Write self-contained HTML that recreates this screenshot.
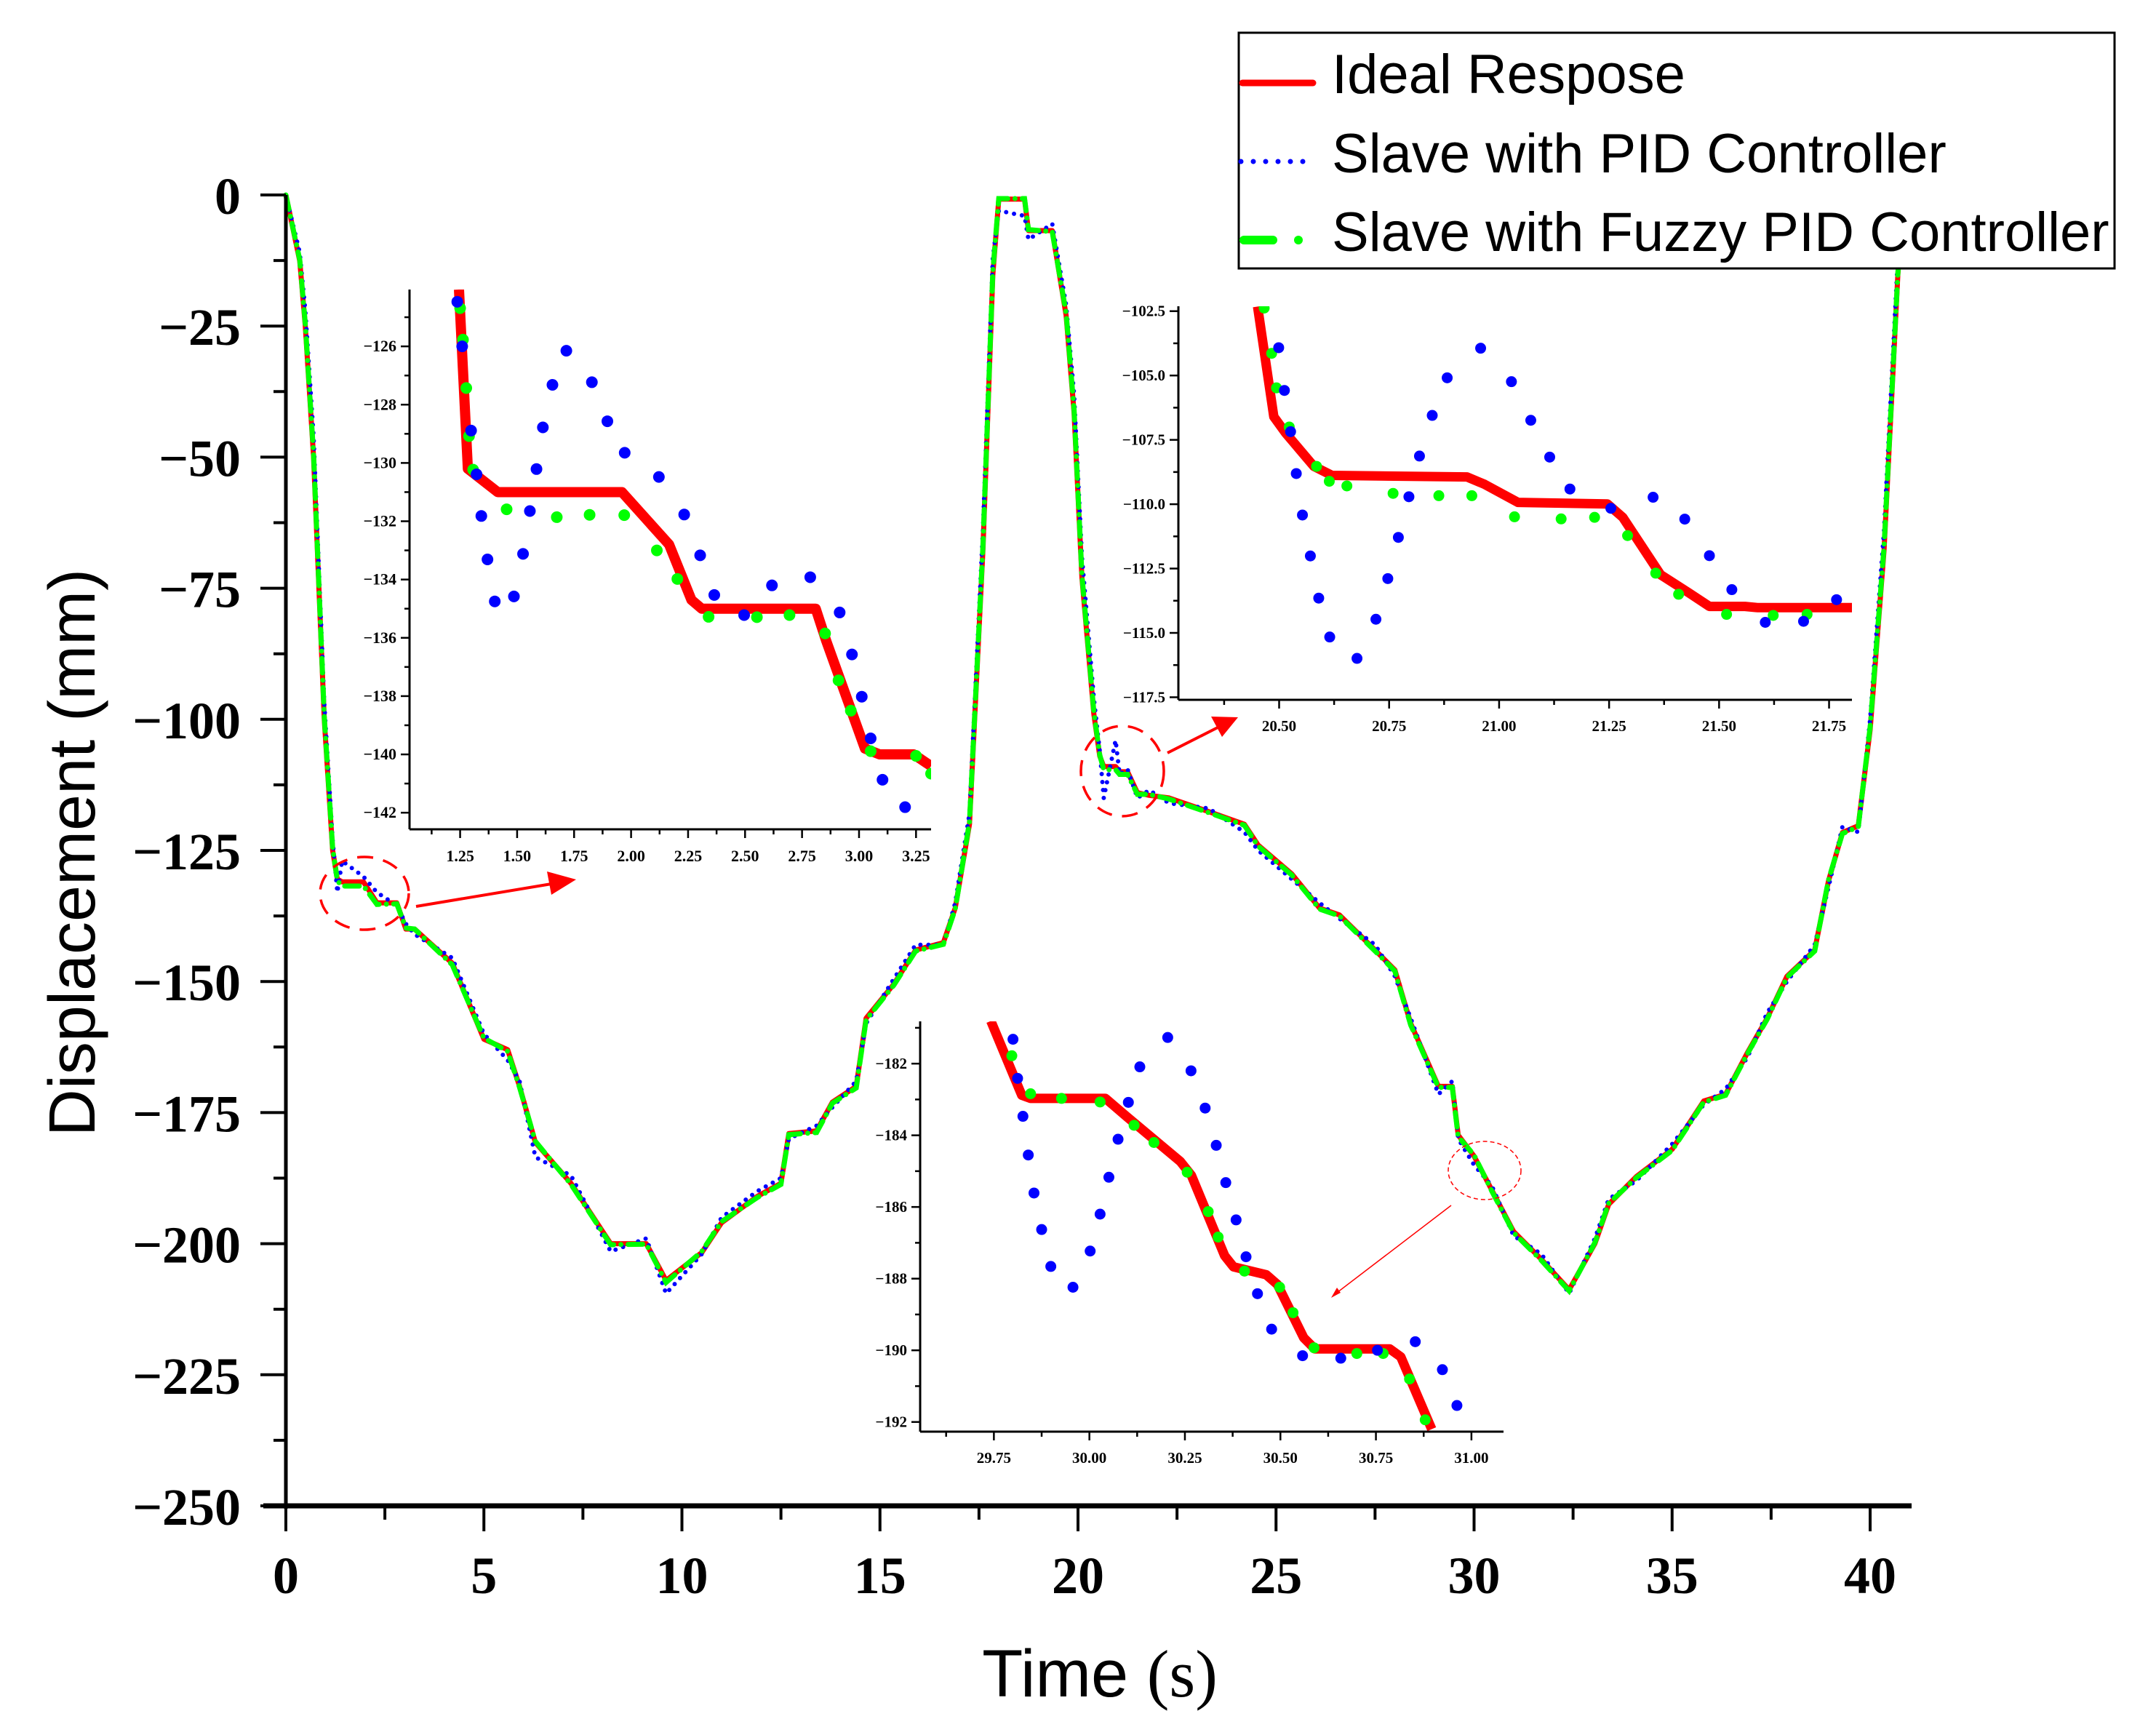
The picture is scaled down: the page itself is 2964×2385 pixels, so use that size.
<!DOCTYPE html>
<html><head><meta charset="utf-8"><style>
html,body{margin:0;padding:0;background:#fff;}
svg{display:block;}
</style></head><body>
<svg id="chart" xmlns="http://www.w3.org/2000/svg" width="2964" height="2385" viewBox="0 0 2964 2385">
<rect x="0" y="0" width="2964" height="2385" fill="#fff"/>
<g id="main-plot"></g>
<g id="annot">
 <ellipse cx="501" cy="1228" rx="61" ry="50" fill="none" stroke="#f00" stroke-width="3.5" stroke-dasharray="22 14"/>
 <line x1="572" y1="1246" x2="770" y2="1213" stroke="#f00" stroke-width="4"/>
 <polygon points="792,1209 752,1198 758,1230" fill="#f00"/>
 <ellipse cx="1543" cy="1060" rx="57" ry="62" fill="none" stroke="#f00" stroke-width="3.5" stroke-dasharray="22 14"/>
 <line x1="1605" y1="1035" x2="1682" y2="996" stroke="#f00" stroke-width="4"/>
 <polygon points="1702,986 1665,985 1680,1013" fill="#f00"/>
 <ellipse cx="2041" cy="1609" rx="50" ry="40" fill="none" stroke="#f00" stroke-width="1.5" stroke-dasharray="6 4"/>
 <line x1="1995" y1="1657" x2="1834" y2="1780" stroke="#f00" stroke-width="1.5"/>
 <polygon points="1830,1784 1838,1770 1843,1777" fill="#f00"/>
</g>
<g id="insets"></g>
<g>
 <rect x="1703" y="45" width="1204" height="324" fill="#fff" stroke="#000" stroke-width="3"/>
 <line x1="1708" y1="114" x2="1805" y2="114" stroke="#f00" stroke-width="9" stroke-linecap="round"/>
 <text x="1831" y="128" font-family="Liberation Sans, sans-serif" font-size="76">Ideal Respose</text>
 <line x1="1706" y1="222" x2="1808" y2="222" stroke="#00f" stroke-width="7" stroke-linecap="round" stroke-dasharray="0 17"/>
 <text x="1831" y="237" font-family="Liberation Sans, sans-serif" font-size="76">Slave with PID Controller</text>
 <line x1="1710" y1="330" x2="1750" y2="330" stroke="#0f0" stroke-width="12" stroke-linecap="round"/>
 <circle cx="1785" cy="330" r="6" fill="#0f0"/>
 <text x="1831" y="345" font-family="Liberation Sans, sans-serif" font-size="76">Slave with Fuzzy PID Controller</text>
</g>
<text transform="translate(130,1172) rotate(-90)" text-anchor="middle" font-family="Liberation Sans, sans-serif" font-size="90">Displacement (mm)</text>
<text x="1512" y="2332" text-anchor="middle" font-size="92"><tspan font-family="Liberation Sans, sans-serif">Time </tspan><tspan font-family="Liberation Serif, serif">(s)</tspan></text>
</svg>
<script>
// ---------- main chart data ----------
const mainT = [0,0.35,0.49,0.7,0.97,1.18,1.3,1.42,1.96,2.3,2.8,3.03,3.25,4.2,5,5.6,5.9,6.3,7.2,8.2,9.1,9.6,10.5,11,11.9,12.5,12.7,13.4,13.8,14.4,14.65,15.35,15.9,16.6,16.9,17.26,17.6,17.85,18.0,18.65,18.75,19.35,19.7,19.9,20.1,20.4,20.55,20.65,20.95,21.05,21.25,21.5,21.8,22.3,23.3,24.2,24.55,25.4,26.1,26.6,27.5,28.0,28.4,29.1,29.45,29.6,30.0,30.45,31,31.7,32.4,33.05,33.4,34.1,35,35.8,36.35,36.9,37.4,37.9,38.6,38.95,39.3,39.7,40,40.35,40.7,40.9];
const mainIdeal = [0,-12.6,-25,-50,-100,-125,-130.5,-131,-131,-135,-135,-140,-140,-146.5,-161,-163,-170,-180.7,-188.5,-200,-200,-207,-201.7,-196,-191,-188.5,-179,-178.5,-173,-170,-157,-150.5,-144,-142.6,-136,-120,-67.7,-15.2,-0.8,-0.8,-6.8,-6.8,-23,-41.5,-73,-99,-107,-109,-109,-110,-110,-114,-114.5,-115,-117.6,-120,-124,-129.5,-136,-137.3,-144,-147.8,-158,-170,-170,-179.3,-183.3,-189.8,-197.7,-203,-208.8,-200,-192.5,-187.2,-182,-172.8,-171.5,-163.6,-157,-149,-144,-130.8,-121.6,-120.3,-102,-67.8,-15.2,5];
const mainPid = [0,-11,-22,-46,-97,-123,-133,-127,-130,-133,-135.5,-139,-141,-145.5,-160,-165,-169,-183.5,-187,-201.5,-199,-209.5,-202,-195,-190,-187.5,-180,-177.5,-174,-169,-158,-149.5,-143,-143,-135,-118,-64,-12,-3,-4,-8.5,-5.5,-21,-38,-69,-96,-106,-115,-104,-110.5,-109.5,-115,-113.5,-116,-117,-121.5,-125,-130.5,-135,-138,-143,-149,-157,-171.5,-169,-180,-185,-189,-198.5,-202,-209.5,-199,-191.5,-188,-181,-173.5,-170.5,-164.5,-156,-150,-143,-132,-120.5,-121.5,-100,-64,-12,5];
const mainFuzzy = [0,-12.4,-24.6,-49.5,-99.5,-124.6,-130.8,-131.8,-131.8,-135.3,-135.2,-139.8,-140,-146.8,-160.8,-163.3,-170.2,-180.5,-188.7,-200.2,-200.1,-207.4,-201.5,-195.8,-191.2,-188.7,-179.2,-178.8,-173.2,-170.3,-157.3,-150.7,-144.2,-142.9,-136.2,-119.6,-67,-14.6,-0.7,-0.7,-6.6,-7,-22.6,-41,-72.5,-98.6,-106.8,-109.6,-109.6,-110.5,-110.5,-114.3,-114.3,-115.2,-117.8,-120.2,-124.2,-129.7,-136.2,-137.5,-144.2,-148,-158.3,-170.2,-170.2,-179.6,-183.1,-190,-197.9,-203.2,-209,-199.8,-192.3,-187.4,-182.2,-173,-171.7,-163.8,-157.2,-149.2,-144.2,-130.6,-121.8,-120.5,-101.5,-67.2,-15,5];
const xTickLabels = ["0","5","10","15","20","25","30","35","40"];
const yTickLabels = ["0","\u221225","\u221250","\u221275","\u2212100","\u2212125","\u2212150","\u2212175","\u2212200","\u2212225","\u2212250"];
const xTickValues = [0,5,10,15,20,25,30,35,40];
const yTickValues = [0,-25,-50,-75,-100,-125,-150,-175,-200,-225,-250];

// ---------- inset 1 data ----------
const in1IdealT = [1.245,1.284,1.415,1.96,2.167,2.265,2.31,2.81,2.856,3.026,3.09,3.24,3.316];
const in1IdealY = [-124.05,-130.2,-131,-131,-132.8,-134.7,-135,-135,-136.1,-139.8,-140,-140,-140.4];
const in1PidT = [1.2375,1.259,1.298,1.322,1.343,1.370,1.402,1.486,1.526,1.556,1.585,1.613,1.655,1.716,1.828,1.896,1.972,2.122,2.233,2.303,2.365,2.496,2.618,2.786,2.915,2.969,3.012,3.051,3.103,3.202];
const in1PidY = [-124.47,-126.0,-128.89,-130.39,-131.82,-133.31,-134.75,-134.58,-133.12,-131.65,-130.21,-128.78,-127.32,-126.15,-127.23,-128.57,-129.65,-130.48,-131.77,-133.17,-134.53,-135.22,-134.20,-133.92,-135.13,-136.57,-138.02,-139.45,-140.87,-141.81];
const in1FuzT = [1.25,1.2625,1.277,1.289,1.307,1.454,1.674,1.818,1.970,2.113,2.203,2.340,2.552,2.695,2.851,2.910,2.964,3.051,3.25,3.316];
const in1FuzY = [-124.69,-125.77,-127.43,-129.08,-130.23,-131.59,-131.86,-131.78,-131.79,-133.0,-133.98,-135.28,-135.29,-135.22,-135.85,-137.46,-138.5,-139.89,-140.05,-140.66];
const in1XTicks = ["1.25","1.50","1.75","2.00","2.25","2.50","2.75","3.00","3.25"];
const in1YTicks = ["\u2212126","\u2212128","\u2212130","\u2212132","\u2212134","\u2212136","\u2212138","\u2212140","\u2212142"];

// ---------- inset 2 data ----------
const in2IdealT = [20.451,20.488,20.515,20.579,20.62,20.927,20.967,21.043,21.246,21.281,21.367,21.431,21.478,21.559,21.588,21.802];
const in2IdealY = [-102.32,-106.6,-107.24,-108.53,-108.88,-108.94,-109.23,-109.93,-109.99,-110.51,-112.74,-113.44,-113.97,-113.97,-114.02,-114.02];
const in2PidT = [20.499,20.512,20.526,20.539,20.553,20.571,20.590,20.615,20.677,20.720,20.747,20.771,20.795,20.819,20.848,20.882,20.958,21.028,21.072,21.115,21.161,21.254,21.350,21.422,21.478,21.529,21.605,21.692,21.767];
const in2PidY = [-103.92,-105.58,-107.18,-108.81,-110.42,-112.01,-113.65,-115.16,-115.99,-114.47,-112.89,-111.29,-109.71,-108.13,-106.55,-105.09,-103.94,-105.24,-106.74,-108.17,-109.41,-110.16,-109.73,-110.58,-112.0,-113.32,-114.59,-114.55,-113.71];
const in2FuzT = [20.466,20.483,20.494,20.523,20.585,20.614,20.654,20.759,20.863,20.938,21.035,21.141,21.217,21.292,21.356,21.408,21.517,21.623,21.70];
const in2FuzY = [-102.38,-104.14,-105.48,-107.0,-108.53,-109.11,-109.29,-109.58,-109.67,-109.67,-110.49,-110.57,-110.51,-111.22,-112.68,-113.5,-114.28,-114.32,-114.28];
const in2XTicks = ["20.50","20.75","21.00","21.25","21.50","21.75"];
const in2YTicks = ["\u2212102.5","\u2212105.0","\u2212107.5","\u2212110.0","\u2212112.5","\u2212115.0","\u2212117.5"];

// ---------- inset 3 data ----------
const in3IdealT = [29.742,29.823,29.846,30.042,30.100,30.238,30.267,30.354,30.377,30.463,30.492,30.561,30.590,30.786,30.815,30.896];
const in3IdealY = [-180.81,-182.88,-182.97,-182.97,-183.50,-184.73,-185.12,-187.36,-187.67,-187.89,-188.16,-189.65,-189.96,-189.96,-190.18,-192.2];
const in3PidT = [29.80,29.812,29.826,29.84,29.855,29.875,29.899,29.957,30.002,30.028,30.051,30.075,30.102,30.132,30.205,30.266,30.303,30.332,30.357,30.384,30.41,30.44,30.477,30.558,30.658,30.754,30.853,30.924,30.962];
const in3PidY = [-181.32,-182.41,-183.47,-184.55,-185.61,-186.63,-187.66,-188.24,-187.23,-186.2,-185.17,-184.11,-183.08,-182.09,-181.27,-182.2,-183.24,-184.28,-185.32,-186.36,-187.39,-188.42,-189.41,-190.15,-190.22,-190.0,-189.76,-190.54,-191.54];
const in3FuzT = [29.797,29.846,29.927,30.028,30.117,30.169,30.256,30.311,30.337,30.406,30.498,30.533,30.588,30.70,30.769,30.838,30.879];
const in3FuzY = [-181.78,-182.84,-182.97,-183.07,-183.72,-184.2,-185.03,-186.13,-186.84,-187.79,-188.24,-188.95,-189.93,-190.09,-190.09,-190.8,-191.94];
const in3XTicks = ["29.75","30.00","30.25","30.50","30.75","31.00"];
const in3YTicks = ["\u2212182","\u2212184","\u2212186","\u2212188","\u2212190","\u2212192"];

const NS = "http://www.w3.org/2000/svg";
function mk(tag, attrs, parent){
  const e = document.createElementNS(NS, tag);
  for (const k in attrs) e.setAttribute(k, attrs[k]);
  parent.appendChild(e);
  return e;
}

// ---------- main axes ----------
const X0 = 393, XS = 54.45, Y0 = 268, YS = 7.208;
const sx = t => X0 + t * XS;
const sy = v => Y0 - v * YS;
const mainG = document.getElementById('main-plot');

function pts(ts, ys, fx, fy){ return ts.map((t,i)=>fx(t).toFixed(1)+','+fy(ys[i]).toFixed(1)).join(' '); }

let ln = mk('polyline', {points: pts(mainT, mainIdeal, sx, sy), fill:'none', stroke:'#f00', 'stroke-width':7, 'stroke-linejoin':'round'}, mainG);


ln = mk('polyline', {points: pts(mainT, mainPid, sx, sy), fill:'none', stroke:'#00f', 'stroke-width':6, 'stroke-linecap':'round', 'stroke-dasharray':'0 11'}, mainG);


ln = mk('polyline', {points: pts(mainT, mainFuzzy, sx, sy), fill:'none', stroke:'#0f0', 'stroke-width':7, 'stroke-linecap':'round', 'stroke-dasharray':'20 10 0 10'}, mainG);



// axes lines
let ax = mk('line', {x1:393, y1:268, x2:393, y2:2074, stroke:'#000', 'stroke-width':5}, mainG);


ax = mk('line', {x1:362, y1:2070, x2:2628, y2:2070, stroke:'#000', 'stroke-width':7}, mainG);



for (let i = 0; i < yTickValues.length; i++) {
  const y = sy(yTickValues[i]);
  const tk = mk('line', {x1:358, y1:y, x2:393, y2:y, stroke:'#000', 'stroke-width':4}, mainG);
  
  
  const lb = mk('text', {x:331, y:y+26, 'text-anchor':'end', 'font-family':'Liberation Serif, serif', 'font-weight':'bold', 'font-size':72}, mainG);
  lb.textContent = yTickLabels[i];
  
  
  if (i < yTickValues.length - 1) {
    const ym = sy(yTickValues[i] - 12.5);
    const mt = mk('line', {x1:376, y1:ym, x2:393, y2:ym, stroke:'#000', 'stroke-width':4}, mainG);
    
    
  }
}
for (let i = 0; i < xTickValues.length; i++) {
  const x = sx(xTickValues[i]);
  const tk = mk('line', {x1:x, y1:2070, x2:x, y2:2105, stroke:'#000', 'stroke-width':4}, mainG);
  
  
  const lb = mk('text', {x:x, y:2190, 'text-anchor':'middle', 'font-family':'Liberation Serif, serif', 'font-weight':'bold', 'font-size':72}, mainG);
  lb.textContent = xTickLabels[i];
  
  
  if (i < xTickValues.length - 1) {
    const xm = sx(xTickValues[i] + 2.5);
    const mt = mk('line', {x1:xm, y1:2070, x2:xm, y2:2089, stroke:'#000', 'stroke-width':4}, mainG);
    
    
  }
}

// ---------- insets ----------
const insG = document.getElementById('insets');
function inset(cfg){
  const g = mk('g', {}, insG);
  
  
  const fx = t => cfg.L + (t - cfg.t0) / (cfg.t1 - cfg.t0) * (cfg.R - cfg.L);
  const fy = v => cfg.T + (cfg.v0 - v) / (cfg.v0 - cfg.v1) * (cfg.B - cfg.T);
  const clipId = cfg.name + '-clip';
  const cp = mk('clipPath', {id: clipId}, g);
  mk('rect', {x:cfg.L, y:cfg.T, width:cfg.R-cfg.L, height:cfg.B-cfg.T}, cp);
  const dg = mk('g', {'clip-path':'url(#'+clipId+')'}, g);
  let l = mk('polyline', {points: pts(cfg.idealT, cfg.idealY, fx, fy), fill:'none', stroke:'#f00', 'stroke-width':cfg.lw, 'stroke-linejoin':'round'}, dg);
  
  
  for (let i = 0; i < cfg.fuzT.length; i++) {
    const c = mk('circle', {cx: fx(cfg.fuzT[i]), cy: fy(cfg.fuzY[i]), r: cfg.r, fill:'#0f0'}, dg);
    
    
  }
  for (let i = 0; i < cfg.pidT.length; i++) {
    const c = mk('circle', {cx: fx(cfg.pidT[i]), cy: fy(cfg.pidY[i]), r: cfg.r, fill:'#00f'}, dg);
    
    
  }
  let a = mk('line', {x1:cfg.L, y1:cfg.T, x2:cfg.L, y2:cfg.B, stroke:'#000', 'stroke-width':3}, g);
  
  
  a = mk('line', {x1:cfg.L, y1:cfg.B, x2:cfg.R, y2:cfg.B, stroke:'#000', 'stroke-width':3}, g);
  
  
  for (let i = 0; i < cfg.yLabels.length; i++) {
    const v = cfg.yStart - i * cfg.yStep;
    const y = fy(v);
    const t = mk('line', {x1:cfg.L-12, y1:y, x2:cfg.L, y2:y, stroke:'#000', 'stroke-width':2.5}, g);
    
    
    const lb = mk('text', {x:cfg.L-18, y:y+7, 'text-anchor':'end', 'font-family':'Liberation Serif, serif', 'font-weight':'bold', 'font-size':cfg.fs}, g);
    lb.textContent = cfg.yLabels[i];
    
    
    const ym = fy(v - cfg.yStep/2);
    if (ym > cfg.T && ym < cfg.B) {
      const m = mk('line', {x1:cfg.L-7, y1:ym, x2:cfg.L, y2:ym, stroke:'#000', 'stroke-width':2.5}, g);
      
      
    }
    const yp = fy(v + cfg.yStep/2);
    if (i === 0 && yp > cfg.T) {
      const m = mk('line', {x1:cfg.L-7, y1:yp, x2:cfg.L, y2:yp, stroke:'#000', 'stroke-width':2.5}, g);
      
      
    }
  }
  for (let i = 0; i < cfg.xLabels.length; i++) {
    const tv = cfg.xStart + i * 0.25;
    const x = fx(tv);
    const t = mk('line', {x1:x, y1:cfg.B, x2:x, y2:cfg.B+12, stroke:'#000', 'stroke-width':2.5}, g);
    
    
    const lb = mk('text', {x:x, y:cfg.B+cfg.fs+22, 'text-anchor':'middle', 'font-family':'Liberation Serif, serif', 'font-weight':'bold', 'font-size':cfg.fs}, g);
    lb.textContent = cfg.xLabels[i];
    
    
    for (const d of [-0.125, 0.125]) {
      const xm = fx(tv + d);
      if (xm > cfg.L && xm < cfg.R && (d < 0 || i === cfg.xLabels.length - 1)) {
        const m = mk('line', {x1:xm, y1:cfg.B, x2:xm, y2:cfg.B+7, stroke:'#000', 'stroke-width':2.5}, g);
        
        
      }
    }
  }
}
inset({name:'inset-1', L:563, R:1280, T:398, B:1140, t0:1.028, t1:3.316, v0:-124.05, v1:-142.57,
  idealT:in1IdealT, idealY:in1IdealY, pidT:in1PidT, pidY:in1PidY, fuzT:in1FuzT, fuzY:in1FuzY,
  xLabels:in1XTicks, yLabels:in1YTicks, xStart:1.25, yStart:-126, yStep:2, lw:14, r:8, fs:22});
inset({name:'inset-2', L:1620, R:2546, T:421, B:962, t0:20.271, t1:21.802, v0:-102.31, v1:-117.6,
  idealT:in2IdealT, idealY:in2IdealY, pidT:in2PidT, pidY:in2PidY, fuzT:in2FuzT, fuzY:in2FuzY,
  xLabels:in2XTicks, yLabels:in2YTicks, xStart:20.5, yStart:-102.5, yStep:2.5, lw:13, r:7.5, fs:21});
inset({name:'inset-3', L:1265, R:2067, T:1404, B:1968, t0:29.557, t1:31.084, v0:-180.82, v1:-192.27,
  idealT:in3IdealT, idealY:in3IdealY, pidT:in3PidT, pidY:in3PidY, fuzT:in3FuzT, fuzY:in3FuzY,
  xLabels:in3XTicks, yLabels:in3YTicks, xStart:29.75, yStart:-182, yStep:2, lw:13, r:7.5, fs:21});
</script>
</body></html>
